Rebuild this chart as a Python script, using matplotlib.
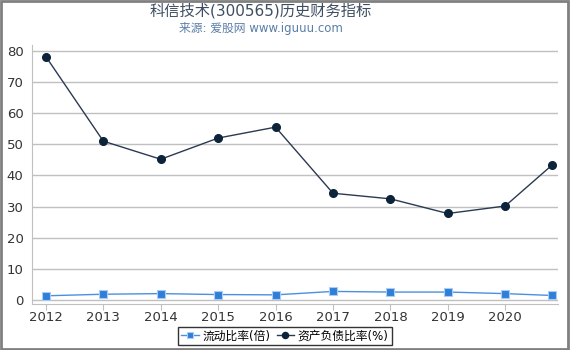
import matplotlib.pyplot as plt
from matplotlib.patches import Rectangle

plt.rcParams['font.family'] = ['DejaVu Sans', 'Noto Sans CJK SC']
plt.rcParams['axes.unicode_minus'] = False

# 数据
years = [2012, 2013, 2014, 2015, 2016, 2017, 2018, 2019, 2020, 2020.82]
current_ratio = [1.4, 1.9, 2.1, 1.8, 1.7, 2.8, 2.6, 2.6, 2.1, 1.5]
debt_ratio = [78.1, 51.0, 45.2, 52.0, 55.5, 34.3, 32.5, 27.8, 30.2, 43.4]
xticks = [2012, 2013, 2014, 2015, 2016, 2017, 2018, 2019, 2020]

fig = plt.figure(figsize=(5.7, 3.5), dpi=100)
ax = fig.add_axes([0.056, 0.131, 0.923, 0.74])

ax.plot(years, current_ratio, color='#4a90e2', lw=1, marker='s', ms=6,
        markerfacecolor='#2f7ed8', markeredgecolor='#a9cdf5', markeredgewidth=0.8,
        label='流动比率(倍)')
ax.plot(years, debt_ratio, color='#2b3a52', lw=1, marker='o', ms=5.5,
        markerfacecolor='#0d233a', markeredgecolor='#0d233a',
        label='资产负债比率(%)')

ax.set_xlim(2011.756, 2020.92)
ax.set_ylim(-1.28, 81.8)
ax.set_xticks(xticks)
ax.set_xticklabels([str(y) for y in xticks])
ax.set_yticks(range(0, 81, 10))
ax.yaxis.grid(True, color='#c0c0c0', lw=1)
ax.set_axisbelow(True)
for s in ['top', 'right']:
    ax.spines[s].set_visible(False)
ax.spines['left'].set_color('#c0c0c0')
ax.spines['bottom'].set_color('#c0c0c0')
ax.tick_params(axis='y', length=0, labelsize=9.5, labelcolor='#333333', pad=6)
ax.tick_params(axis='x', length=4, color='#c0c0c0', labelsize=9.5, labelcolor='#333333', pad=1)

fig.text(0.458, 0.969, '科信技术(300565)历史财务指标', ha='center', va='center',
         fontsize=11, color='#3e4e62')
fig.text(0.458, 0.918, '来源: 爱股网 www.iguuu.com', ha='center', va='center',
         fontsize=8.5, color='#5a7ea8')

leg = fig.legend(loc='center', bbox_to_anchor=(0.5, 0.04), ncol=2, fontsize=8.5,
                 frameon=True, fancybox=False, edgecolor='black',
                 handlelength=1.5, handletextpad=0.3, columnspacing=0.5,
                 borderpad=0.25, markerscale=0.8)
leg.get_frame().set_linewidth(1)

# 外框
fig.patches.append(Rectangle((0.001, 0.003), 0.995, 0.995, transform=fig.transFigure,
                             fill=False, edgecolor='#808080', lw=2))

plt.savefig('out.png')
